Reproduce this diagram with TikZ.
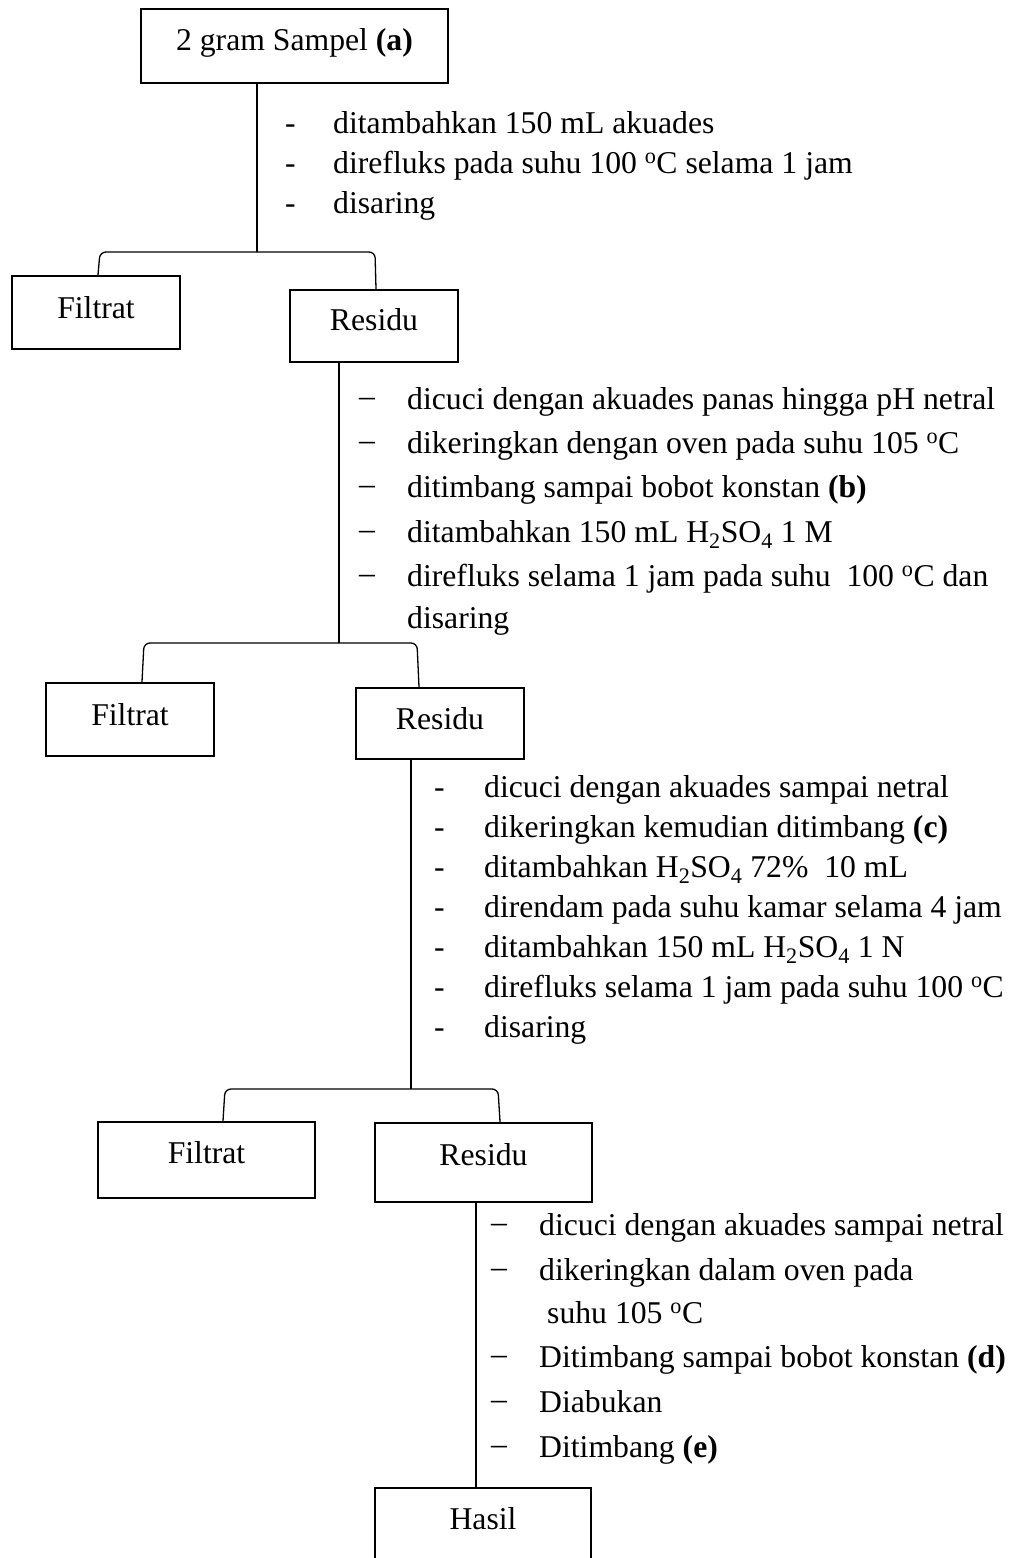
\documentclass[tikz,border=0pt]{standalone}
\usepackage{fontspec}
\setmainfont{Liberation Serif}
\newcommand{\degC}{\textsuperscript{o}C}
\newcommand{\ldash}{\raisebox{2.5pt}{–}}
\tikzset{
  box/.style={draw, line width=2.4pt, inner sep=0pt},
  conn/.style={line width=1.3pt},
  txt/.style={inner sep=0pt, font=\fontsize{31.7}{38}\selectfont, anchor=base west},
  lbl/.style={inner sep=0pt, font=\fontsize{31.7}{38}\selectfont, anchor=base},
}
\begin{document}
\begin{tikzpicture}[x=1pt,y=-1pt]
\useasboundingbox (0,0) rectangle (1016,1558);
\fill[white] (0,0) rectangle (1016,1558);

% boxes
\node[box, minimum width=307pt, minimum height=74pt] (sampel) at (294.5,46) {};
\node[lbl] (sampelT) at (294.5,50) {2 gram Sampel \textbf{(a)}};
\node[box, minimum width=168pt, minimum height=73pt] (filtrat1) at (96,312.5) {};
\node[lbl] (filtrat1T) at (96,318) {Filtrat};
\node[box, minimum width=168pt, minimum height=72pt] (residu1) at (374,326) {};
\node[lbl] (residu1T) at (374,330) {Residu};
\node[box, minimum width=168pt, minimum height=73pt] (filtrat2) at (130,719.5) {};
\node[lbl] (filtrat2T) at (130,725) {Filtrat};
\node[box, minimum width=168pt, minimum height=71pt] (residu2) at (440,723.5) {};
\node[lbl] (residu2T) at (440,729) {Residu};
\node[box, minimum width=217pt, minimum height=76pt] (filtrat3) at (206.5,1160) {};
\node[lbl] (filtrat3T) at (206.5,1163) {Filtrat};
\node[box, minimum width=217pt, minimum height=79pt] (residu3) at (483.5,1162.5) {};
\node[lbl] (residu3T) at (483.5,1165) {Residu};
\node[inner sep=0pt, minimum width=216pt, minimum height=80pt] (hasil) at (483,1528) {};
\draw[line width=2.4pt] (hasil.south west) -- (hasil.north west) -- (hasil.north east) -- (hasil.south east);
\node[lbl] (hasilT) at (483,1529) {Hasil};

% junction coordinates
\coordinate (j1) at (257,252);
\coordinate (d1l) at (98,0);
\coordinate (d1r) at (376,0);
\coordinate (j2) at (339,643);
\coordinate (d2l) at (142,0);
\coordinate (d2r) at (419,0);
\coordinate (j3) at (411,1089);
\coordinate (d3l) at (223,0);
\coordinate (d3r) at (500,0);
\coordinate (j4) at (476,0);

% connectors
\draw[conn] (sampel.south -| j1) -- (j1);
\draw[conn, rounded corners=6pt] (filtrat1.north -| d1l) -- (100,252) -- (375,252) -- (residu1.north -| d1r);
\draw[conn] (residu1.south -| j2) -- (j2);
\draw[conn, rounded corners=6pt] (filtrat2.north -| d2l) -- (144,643) -- (417,643) -- (residu2.north -| d2r);
\draw[conn] (residu2.south -| j3) -- (j3);
\draw[conn, rounded corners=6pt] (filtrat3.north -| d3l) -- (225,1089) -- (498,1089) -- (residu3.north -| d3r);
\draw[conn] (residu3.south -| j4) -- (hasil.north -| j4);

% list 1
\node[txt] (a1d) at (285,133) {-};
\node[txt] (a1) at (333,133) {ditambahkan 150 mL akuades};
\node[txt] (a2d) at (285,173) {-};
\node[txt] (a2) at (333,173) {direfluks pada suhu 100 \degC{} selama 1 jam};
\node[txt] (a3d) at (285,213) {-};
\node[txt] (a3) at (333,213) {disaring};

% list 2
\node[txt] (b1d) at (359,409) {\ldash};
\node[txt] (b1) at (407,409) {dicuci dengan akuades panas hingga pH netral};
\node[txt] (b2d) at (359,453) {\ldash};
\node[txt] (b2) at (407,453) {dikeringkan dengan oven pada suhu 105 \degC};
\node[txt] (b3d) at (359,497) {\ldash};
\node[txt] (b3) at (407,497) {ditimbang sampai bobot konstan \textbf{(b)}};
\node[txt] (b4d) at (359,542) {\ldash};
\node[txt] (b4) at (407,542) {ditambahkan 150 mL H\textsubscript{2}SO\textsubscript{4} 1 M};
\node[txt] (b5d) at (359,586) {\ldash};
\node[txt] (b5) at (407,586) {direfluks selama 1 jam pada suhu\ \ 100 \degC{} dan};
\node[txt] (b6) at (407,628) {disaring};

% list 3
\node[txt] (c1d) at (434,797) {-};
\node[txt] (c1) at (484,797) {dicuci dengan akuades sampai netral};
\node[txt] (c2d) at (434,837) {-};
\node[txt] (c2) at (484,837) {dikeringkan kemudian ditimbang \textbf{(c)}};
\node[txt] (c3d) at (434,877) {-};
\node[txt] (c3) at (484,877) {ditambahkan H\textsubscript{2}SO\textsubscript{4} 72\%\ \ 10 mL};
\node[txt] (c4d) at (434,917) {-};
\node[txt] (c4) at (484,917) {direndam pada suhu kamar selama 4 jam};
\node[txt] (c5d) at (434,957) {-};
\node[txt] (c5) at (484,957) {ditambahkan 150 mL H\textsubscript{2}SO\textsubscript{4} 1 N};
\node[txt] (c6d) at (434,997) {-};
\node[txt] (c6) at (484,997) {direfluks selama 1 jam pada suhu 100 \degC};
\node[txt] (c7d) at (434,1037) {-};
\node[txt] (c7) at (484,1037) {disaring};

% list 4
\node[txt] (e1d) at (491,1235) {\ldash};
\node[txt] (e1) at (539,1235) {dicuci dengan akuades sampai netral};
\node[txt] (e2d) at (491,1280) {\ldash};
\node[txt] (e2) at (539,1280) {dikeringkan dalam oven pada};
\node[txt] (e3) at (547,1323) {suhu 105 \degC};
\node[txt] (e4d) at (491,1367) {\ldash};
\node[txt] (e4) at (539,1367) {Ditimbang sampai bobot konstan \textbf{(d)}};
\node[txt] (e5d) at (491,1412) {\ldash};
\node[txt] (e5) at (539,1412) {Diabukan};
\node[txt] (e6d) at (491,1457) {\ldash};
\node[txt] (e6) at (539,1457) {Ditimbang \textbf{(e)}};
\end{tikzpicture}
\end{document}
